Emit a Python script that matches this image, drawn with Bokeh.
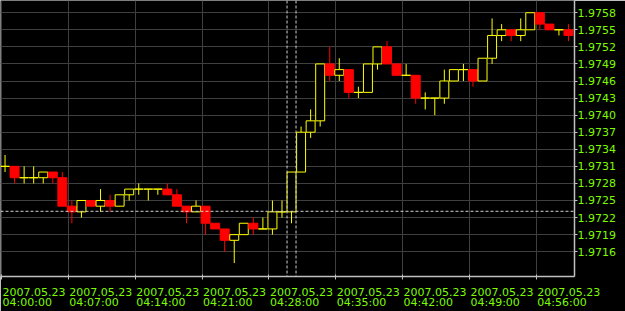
from bokeh.plotting import figure
from bokeh.models import (FixedTicker, LinearAxis, Span, ColumnDataSource, Range1d,
                          CustomJSTickFormatter, PrintfTickFormatter)
from bokeh.embed import file_html
from bokeh.resources import INLINE

# ---- data: 1-minute bars, 2007.05.23 04:00 .. 04:59 ----
minutes = list(range(60))
opens = [1.9731, 1.9731, 1.9729, 1.9729, 1.9729, 1.9730, 1.9729, 1.9724, 1.9723, 1.9725,
         1.9724, 1.9725, 1.9724, 1.9726, 1.9727, 1.9727, 1.9727, 1.9727, 1.9726, 1.9724,
         1.9723, 1.9724, 1.9721, 1.9720, 1.9718, 1.9719, 1.9721, 1.9720, 1.9720, 1.9723,
         1.9723, 1.9730, 1.9737, 1.9739, 1.9749, 1.9747, 1.9748, 1.9744, 1.9744, 1.9749,
         1.9752, 1.9749, 1.9747, 1.9747, 1.9743, 1.9743, 1.9743, 1.9746, 1.9748, 1.9748,
         1.9746, 1.9750, 1.9754, 1.9755, 1.9754, 1.9755, 1.9758, 1.9756, 1.9755, 1.9755]
highs = [1.9733, 1.9731, 1.9731, 1.9731, 1.9730, 1.9730, 1.9730, 1.9725, 1.9725, 1.9725,
         1.9727, 1.9726, 1.9726, 1.9727, 1.9728, 1.9727, 1.9727, 1.9728, 1.9727, 1.9724,
         1.9725, 1.9724, 1.9721, 1.9720, 1.9719, 1.9721, 1.9722, 1.9722, 1.9725, 1.9725,
         1.9730, 1.9738, 1.9741, 1.9749, 1.9752, 1.9750, 1.9748, 1.9745, 1.9749, 1.9752,
         1.9753, 1.9749, 1.9749, 1.9747, 1.9744, 1.9743, 1.9748, 1.9748, 1.9749, 1.9748,
         1.9750, 1.9757, 1.9756, 1.9755, 1.9757, 1.9758, 1.9758, 1.9756, 1.9755, 1.9756]
lows = [1.9730, 1.9728, 1.9728, 1.9728, 1.9728, 1.9728, 1.9724, 1.9721, 1.9722, 1.9724,
        1.9723, 1.9723, 1.9724, 1.9725, 1.9726, 1.9725, 1.9726, 1.9726, 1.9724, 1.9721,
        1.9723, 1.9719, 1.9720, 1.9716, 1.9714, 1.9719, 1.9719, 1.9720, 1.9719, 1.9722,
        1.9721, 1.9730, 1.9736, 1.9738, 1.9746, 1.9746, 1.9743, 1.9743, 1.9744, 1.9748,
        1.9749, 1.9747, 1.9747, 1.9742, 1.9741, 1.9740, 1.9742, 1.9746, 1.9746, 1.9745,
        1.9746, 1.9749, 1.9753, 1.9753, 1.9753, 1.9755, 1.9755, 1.9755, 1.9754, 1.9753]
closes = [1.9731, 1.9729, 1.9729, 1.9729, 1.9730, 1.9729, 1.9724, 1.9723, 1.9725, 1.9724,
          1.9725, 1.9724, 1.9726, 1.9727, 1.9727, 1.9727, 1.9727, 1.9726, 1.9724, 1.9723,
          1.9724, 1.9721, 1.9720, 1.9718, 1.9719, 1.9721, 1.9720, 1.9720, 1.9723, 1.9723,
          1.9730, 1.9737, 1.9739, 1.9749, 1.9747, 1.9748, 1.9744, 1.9744, 1.9749, 1.9752,
          1.9749, 1.9747, 1.9747, 1.9743, 1.9743, 1.9743, 1.9746, 1.9748, 1.9748, 1.9746,
          1.9750, 1.9754, 1.9755, 1.9754, 1.9755, 1.9758, 1.9756, 1.9755, 1.9755, 1.9754]

date_label = "2007.05.23"
tick_minutes = [0, 7, 14, 21, 28, 35, 42, 49, 56]
tick_times = ["04:00:00", "04:07:00", "04:14:00", "04:21:00", "04:28:00",
              "04:35:00", "04:42:00", "04:49:00", "04:56:00"]
price_ticks = [1.9716, 1.9719, 1.9722, 1.9725, 1.9728, 1.9731, 1.9734, 1.9737,
               1.9740, 1.9743, 1.9746, 1.9749, 1.9752, 1.9755, 1.9758]
crosshair_price = 1.97231
highlight_bar = 30

# ---- styling ----
BG = "#000000"
GRID = "#3f3f3f"
AXIS = "#c0c0c0"
TEXT = "#7cfc00"
UP = "#ffff00"
DOWN = "#ff0000"
FONT = "DejaVu Sans"
BAR_OFF = 0.37      # bar centre relative to its minute
BODY_W = 0.94

W, H = 625, 311
FRAME_W, FRAME_H = 574, 276
x0, x1 = -0.105, 60.0
px_per_min = FRAME_W / (x1 - x0)

xc, top, bottom, fill, line = [], [], [], [], []
for m, o, c in zip(minutes, opens, closes):
    xc.append(m + BAR_OFF)
    top.append(max(o, c))
    bottom.append(min(o, c))
    if c > o:
        fill.append(BG); line.append(UP)
    elif c < o:
        fill.append(DOWN); line.append(DOWN)
    else:
        fill.append(BG); line.append(UP)

src = ColumnDataSource(dict(xc=xc, top=top, bottom=bottom, high=highs, low=lows,
                            fill=fill, line=line))

p = figure(width=W, height=H, output_backend="svg", toolbar_location=None,
           x_range=Range1d(x0, x1), y_range=Range1d(1.9711641, 1.9760148),
           y_axis_location="right", x_axis_location=None,
           min_border_left=0, min_border_top=0,
           min_border_right=W - FRAME_W, min_border_bottom=H - FRAME_H,
           background_fill_color=BG, border_fill_color=BG, outline_line_color=None)

# grid
p.xgrid.ticker = FixedTicker(ticks=tick_minutes)
p.ygrid.ticker = FixedTicker(ticks=price_ticks)
for g in (p.xgrid, p.ygrid):
    g.grid_line_color = GRID
    g.grid_line_width = 1

# right price axis
ya = p.yaxis[0]
ya.ticker = FixedTicker(ticks=price_ticks)
ya.formatter = PrintfTickFormatter(format="%.4f")
ya.axis_line_color = AXIS
ya.axis_line_width = 1.5
ya.major_tick_line_color = AXIS
ya.major_tick_out = 3
ya.major_tick_in = 0
ya.minor_tick_line_color = None
ya.major_label_standoff = 0
ya.major_label_text_color = TEXT
ya.major_label_text_font = FONT
ya.major_label_text_font_size = "11px"

# bottom: left-aligned two-line labels from two label axes shifted by half a label width;
# the first one also carries the axis line and the real tick marks (as minor ticks)
date_shift = 32.5 / px_per_min
time_shift = 25.7 / px_per_min

def label_axis(shift, labels, standoff, with_line):
    ax = LinearAxis(
        ticker=FixedTicker(ticks=[t + shift for t in tick_minutes],
                           minor_ticks=tick_minutes if with_line else []),
        formatter=CustomJSTickFormatter(
            args=dict(mins=tick_minutes, labels=labels, shift=shift),
            code="const i = mins.indexOf(Math.round(tick - shift)); return i >= 0 ? labels[i] : '';"),
        axis_line_color=AXIS if with_line else None, axis_line_width=1.5,
        major_tick_line_color=None,
        minor_tick_line_color=AXIS if with_line else None,
        minor_tick_in=2, minor_tick_out=3, major_tick_in=0, major_tick_out=0,
        major_label_standoff=standoff, major_label_text_color=TEXT,
        major_label_text_font=FONT, major_label_text_font_size="11px")
    return ax

p.add_layout(label_axis(date_shift, [date_label] * len(tick_minutes), 8, True), "below")
p.add_layout(label_axis(time_shift, tick_times, -3, False), "below")

# candles: wicks then bodies
p.segment(x0="xc", y0="low", x1="xc", y1="high", line_color="line", line_width=1, source=src)
p.vbar(x="xc", width=BODY_W, top="top", bottom="bottom", fill_color="fill",
       line_color="line", line_width=1, source=src)

# crosshair / highlighted bar
dash = dict(line_color="#d0d0d0", line_dash="3 2", line_width=1)
p.add_layout(Span(location=crosshair_price, dimension="width", **dash))
p.add_layout(Span(location=highlight_bar + BAR_OFF - BODY_W / 2, dimension="height", **dash))
p.add_layout(Span(location=highlight_bar + BAR_OFF + BODY_W / 2, dimension="height", **dash))

open("out.html", "w").write(file_html(p, INLINE))
